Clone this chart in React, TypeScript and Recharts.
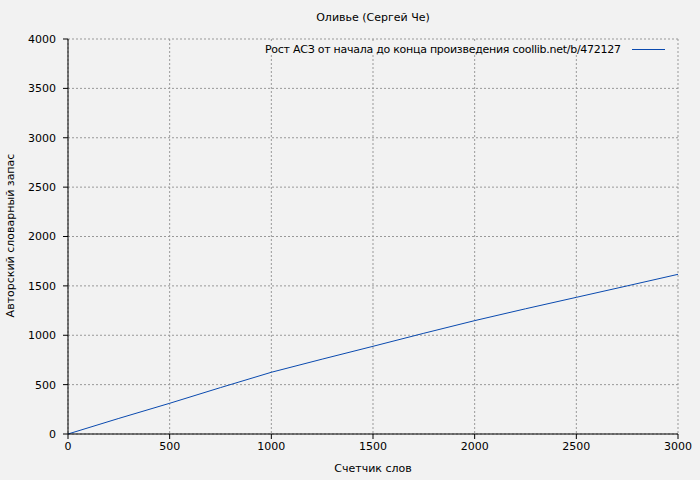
import { LineChart, Line, XAxis, YAxis, CartesianGrid } from 'recharts';

const words = [0, 250, 500, 750, 1000, 1250, 1500, 1750, 2000, 2250, 2500, 2750, 3000];
const vocab = [0, 158, 311, 470, 625, 758, 888, 1020, 1148, 1268, 1384, 1500, 1617];
const xTicks = [0, 500, 1000, 1500, 2000, 2500, 3000];
const yTicks = [0, 500, 1000, 1500, 2000, 2500, 3000, 3500, 4000];

const seriesName = 'Рост АСЗ от начала до конца произведения coollib.net/b/472127';
const lineColor = '#0a4aaf';
const font = '"DejaVu Sans", Verdana, sans-serif';

const data = words.map((w, i) => ({ words: w, vocab: vocab[i] }));

export default function App() {
  return (
    <div style={{ position: 'absolute', left: 0, top: 0, width: 700, height: 480, background: '#f2f2f2', fontFamily: font }}>
      <div style={{ position: 'absolute', left: 68, width: 610, top: 11, textAlign: 'center', fontSize: 11, color: '#000' }}>
        Оливье (Сергей Че)
      </div>
      <div style={{ position: 'absolute', left: 68, width: 610, top: 462, textAlign: 'center', fontSize: 11, color: '#000' }}>
        Счетчик слов
      </div>
      <div
        style={{
          position: 'absolute', left: 10, top: 236, width: 300, marginLeft: -150, textAlign: 'center',
          fontSize: 11, color: '#000', transform: 'rotate(-90deg)', lineHeight: '13px', marginTop: -7,
        }}
      >
        Авторский словарный запас
      </div>
      <LineChart width={700} height={480} data={data} margin={{ top: 39, right: 22, left: 0, bottom: 0 }}>
        <CartesianGrid stroke="#999" strokeDasharray="2 2" />
        <XAxis
          dataKey="words"
          type="number"
          domain={[0, 3000]}
          ticks={xTicks}
          height={46}
          tickSize={5}
          tickLine={{ stroke: '#000' }}
          axisLine={{ stroke: '#000' }}
          tick={{ fill: '#000', fontSize: 11, fontFamily: font }}
          tickMargin={3}
        />
        <XAxis xAxisId="top" orientation="top" dataKey="words" type="number" domain={[0, 3000]} height={0} tick={false} tickLine={false} axisLine={{ stroke: '#000' }} />
        <YAxis
          type="number"
          domain={[0, 4000]}
          ticks={yTicks}
          width={68}
          tickSize={5}
          tickLine={{ stroke: '#000' }}
          axisLine={{ stroke: '#000' }}
          tick={{ fill: '#000', fontSize: 11, fontFamily: font }}
          tickMargin={7}
        />
        <YAxis yAxisId="right" orientation="right" domain={[0, 4000]} width={0} tick={false} tickLine={false} axisLine={{ stroke: '#000' }} />
        <Line type="linear" dataKey="vocab" name={seriesName} stroke={lineColor} strokeWidth={1} dot={false} isAnimationActive={false} />
      </LineChart>
      <svg width={700} height={480} style={{ position: 'absolute', left: 0, top: 0 }}>
        <rect x={261} y={41} width={368} height={14} fill="#f2f2f2" />
        <text x={265} y={53} fontSize={11} fontFamily={font} fill="#000" textLength={356} lengthAdjust="spacing">
          {seriesName}
        </text>
        <line x1={632} x2={665} y1={49.5} y2={49.5} stroke={lineColor} strokeWidth={1} />
      </svg>
    </div>
  );
}
